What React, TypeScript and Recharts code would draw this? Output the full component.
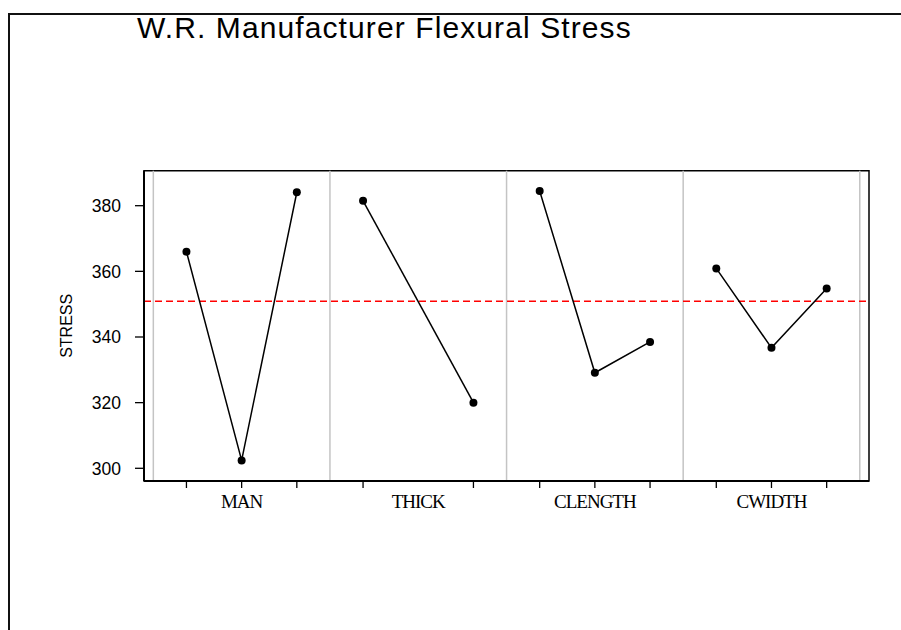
import React from "react";
import { LineChart, Line, XAxis, YAxis, ReferenceLine, ReferenceArea } from "recharts";

const factors = ["MAN", "THICK", "CLENGTH", "CWIDTH"];
const manStress = [366.0, 302.4, 384.1];
const thickStress = [381.5, 320.0];
const clengthStress = [384.5, 329.1, 338.5];
const cwidthStress = [360.9, 336.7, 354.8];
const grandMean = 350.9;
const yTicks = [300, 320, 340, 360, 380];
const titleText = "W.R. Manufacturer Flexural Stress";
const yLabel = "STRESS";

const factorMeans = [manStress, thickStress, clengthStress, cwidthStress];

const PANEL = 3.2;
const X_DOMAIN: [number, number] = [-0.169, 4 * PANEL + 0.167];
const Y_DOMAIN: [number, number] = [296.13, 390.66];
const TICK_LEN = 7;
const TICK_GAP = 7;

function levelPos(panel: number, j: number, n: number) {
  return panel * PANEL + 0.6 + (n > 1 ? (j * 2) / (n - 1) : 1);
}

const series = factorMeans.map((vals, i) =>
  vals.map((v, j) => ({ x: levelPos(i, j, vals.length), y: v }))
);
const levelTicks = series.flatMap((s) => s.map((p) => p.x));
const panelCenters = factors.map((_, i) => i * PANEL + PANEL / 2);
const panelBounds = [0, 1, 2, 3, 4].map((i) => i * PANEL);

const near = (a: number, b: number) => Math.abs(a - b) < 1e-6;
const allTicks: number[] = [];
[...levelTicks, ...panelCenters]
  .sort((a, b) => a - b)
  .forEach((v) => {
    if (!allTicks.some((t) => near(t, v))) allTicks.push(v);
  });

const FactorTick = (p: any) => {
  const v = p.payload?.value;
  const isLevel = levelTicks.some((t) => near(t, v));
  const ci = panelCenters.findIndex((c) => near(c, v));
  const axisY = p.y - TICK_LEN - TICK_GAP;
  return (
    <g>
      {isLevel && (
        <line x1={p.x} x2={p.x} y1={axisY} y2={axisY + TICK_LEN} stroke="#000" strokeWidth={1.3} />
      )}
      {ci >= 0 && (
        <text
          x={p.x}
          y={axisY + 27.3}
          textAnchor="middle"
          fontSize={19}
          fontFamily="'Liberation Serif', 'Times New Roman', serif"
          letterSpacing={-1}
          fill="#000"
        >
          {factors[ci]}
        </text>
      )}
    </g>
  );
};

const YLabel = (props: any) => {
  const vb = props.viewBox || { x: 0, y: 0, width: 0, height: 0 };
  const cx = vb.x + 72;
  const cy = vb.y + vb.height / 2;
  return (
    <text
      x={cx}
      y={cy}
      transform={`rotate(-90 ${cx} ${cy})`}
      textAnchor="middle"
      fontSize={16}
      fontFamily="'Liberation Sans', Arial, sans-serif"
      fill="#000"
    >
      {yLabel}
    </text>
  );
};

export default function App() {
  return (
    <div
      style={{
        position: "absolute",
        left: 0,
        top: 0,
        width: 901,
        height: 630,
        background: "#fff",
        overflow: "hidden",
      }}
    >
      <div
        style={{
          position: "absolute",
          left: 8,
          top: 13,
          width: 1000,
          height: 700,
          borderLeft: "2px solid #111",
          borderTop: "2px solid #111",
        }}
      />
      <div
        style={{
          position: "absolute",
          left: 137,
          top: 13,
          fontSize: 30,
          lineHeight: "30px",
          letterSpacing: 1.1,
          fontFamily: "'Liberation Sans', Arial, sans-serif",
          color: "#000",
          whiteSpace: "nowrap",
        }}
      >
        {titleText}
      </div>
      <div style={{ position: "absolute", left: 0, top: 0 }}>
        <LineChart
          width={901}
          height={630}
          margin={{ top: 170.7, right: 32, bottom: 109, left: 0 }}
          style={{ fontFamily: "'Liberation Sans', Arial, sans-serif" }}
        >
          <XAxis
            dataKey="x"
            type="number"
            domain={X_DOMAIN}
            ticks={allTicks}
            interval={0}
            tick={<FactorTick />}
            tickLine={false}
            tickSize={TICK_LEN}
            tickMargin={TICK_GAP}
            height={40}
            allowDataOverflow
            axisLine={{ stroke: "#000", strokeWidth: 2 }}
          />
          <YAxis
            type="number"
            domain={Y_DOMAIN}
            ticks={yTicks}
            width={144}
            tickSize={9}
            tickMargin={14}
            allowDataOverflow
            axisLine={{ stroke: "#000", strokeWidth: 2 }}
            tickLine={{ stroke: "#000", strokeWidth: 1.3 }}
            tick={{ fill: "#000", fontSize: 17.5, fontFamily: "'Liberation Sans', Arial, sans-serif" }}
            label={{ content: <YLabel /> }}
          />
          <ReferenceArea
            x1={X_DOMAIN[0]}
            x2={X_DOMAIN[1]}
            y1={Y_DOMAIN[0]}
            y2={Y_DOMAIN[1]}
            fill="none"
            fillOpacity={0}
            stroke="#000"
            strokeWidth={1.5}
          />
          {panelBounds.map((b) => (
            <ReferenceLine key={b} x={b} stroke="#c4c4c4" strokeWidth={1.5} />
          ))}
          <ReferenceLine y={grandMean} stroke="#ff0000" strokeWidth={1.6} strokeDasharray="7 4" />
          {series.map((s, i) => (
            <Line
              key={factors[i]}
              data={s}
              dataKey="y"
              type="linear"
              stroke="#000"
              strokeWidth={1.5}
              dot={{ r: 4, fill: "#000", stroke: "#000", strokeWidth: 0 }}
              activeDot={false}
              isAnimationActive={false}
            />
          ))}
        </LineChart>
      </div>
    </div>
  );
}
